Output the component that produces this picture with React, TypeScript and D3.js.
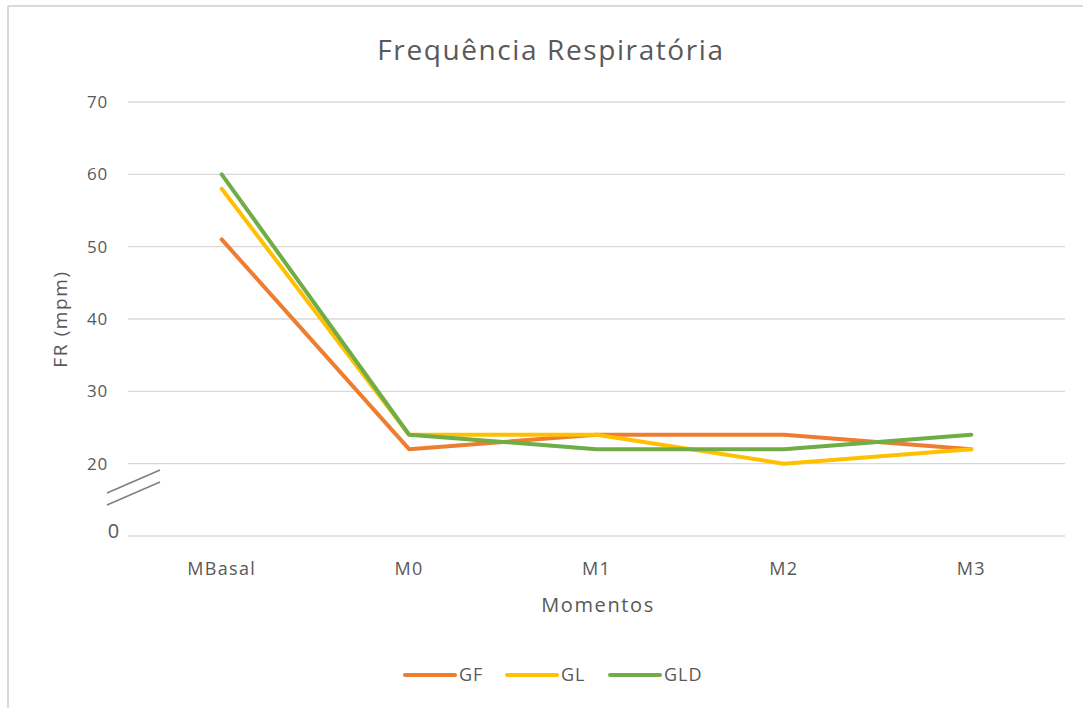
import React from "react";
import * as d3 from "d3";

const categories = ["MBasal", "M0", "M1", "M2", "M3"];
const seriesNames = ["GF", "GL", "GLD"];
const gfValues = [51, 22, 24, 24, 22];
const glValues = [58, 24, 24, 20, 22];
const gldValues = [60, 24, 22, 22, 24];
const seriesColors = ["#ED7D31", "#FFC000", "#70AD47"];
// axis is broken: the lowest tick position stands for 0
const yTickValues = [10, 20, 30, 40, 50, 60, 70];
const yTickLabels = ["0", "20", "30", "40", "50", "60", "70"];

const W = 1083;
const H = 708;
const plot = { left: 128, right: 1065, top: 102, bottom: 536 };

export default function App() {
  const x = d3.scaleBand().domain(categories).range([plot.left, plot.right]);
  const y = d3.scaleLinear().domain([10, 70]).range([plot.bottom, plot.top]);
  const cx = (c: string) => (x(c) ?? 0) + x.bandwidth() / 2;
  const line = d3
    .line<number>()
    .x((_, i) => cx(categories[i]))
    .y((v) => y(v));
  const data = [gfValues, glValues, gldValues];
  const textColor = "#595959";
  const font = "'Open Sans', sans-serif";
  const legendX = [405, 507, 610];

  return (
    <svg
      width={W}
      height={H}
      style={{ position: "absolute", left: 0, top: 0, background: "#fff" }}
      fontFamily={font}
    >
      <rect x={0} y={0} width={W} height={H} fill="#fff" />
      <line x1={8} y1={6} x2={W} y2={6} stroke="#d9d9d9" strokeWidth={2} />
      <line x1={8} y1={6} x2={8} y2={H} stroke="#d9d9d9" strokeWidth={2} />
      <text x={551} y={60} textAnchor="middle" fontSize={28} letterSpacing={1.6} fill={textColor}>
        Frequência Respiratória
      </text>
      {yTickValues.map((v, i) => (
        <g key={v}>
          <line
            x1={plot.left}
            x2={plot.right}
            y1={y(v)}
            y2={y(v)}
            stroke="#d9d9d9"
            strokeWidth={1.3}
          />
          <text
            x={i === 0 ? 120 : 108}
            y={i === 0 ? y(v) - 5 : y(v)}
            dy="0.35em"
            textAnchor="end"
            fontSize={i === 0 ? 20 : 17}
            letterSpacing={0.8}
            fill={textColor}
          >
            {yTickLabels[i]}
          </text>
        </g>
      ))}
      <line x1={107} y1={493} x2={160} y2={470} stroke="#7f7f7f" strokeWidth={1.5} />
      <line x1={107} y1={505} x2={160} y2={482} stroke="#7f7f7f" strokeWidth={1.5} />
      {categories.map((c) => (
        <text key={c} x={cx(c)} y={575} textAnchor="middle" fontSize={18} letterSpacing={1.3} fill={textColor}>
          {c}
        </text>
      ))}
      <text x={598} y={612} textAnchor="middle" fontSize={20} letterSpacing={1.6} fill={textColor}>
        Momentos
      </text>
      <text
        transform={`translate(67,${(plot.top + plot.bottom) / 2}) rotate(-90)`}
        textAnchor="middle"
        fontSize={19}
        letterSpacing={1.6}
        fill={textColor}
      >
        FR (mpm)
      </text>
      {data.map((vals, i) => (
        <path
          key={seriesNames[i]}
          d={line(vals) ?? ""}
          fill="none"
          stroke={seriesColors[i]}
          strokeWidth={4}
          strokeLinejoin="round"
          strokeLinecap="round"
        />
      ))}
      {seriesNames.map((s, i) => (
        <g key={s}>
          <line
            x1={legendX[i]}
            x2={legendX[i] + 50}
            y1={675}
            y2={675}
            stroke={seriesColors[i]}
            strokeWidth={4}
            strokeLinecap="round"
          />
          <text x={legendX[i] + 54} y={675} dy="0.35em" fontSize={18} letterSpacing={1} fill={textColor}>
            {s}
          </text>
        </g>
      ))}
    </svg>
  );
}
